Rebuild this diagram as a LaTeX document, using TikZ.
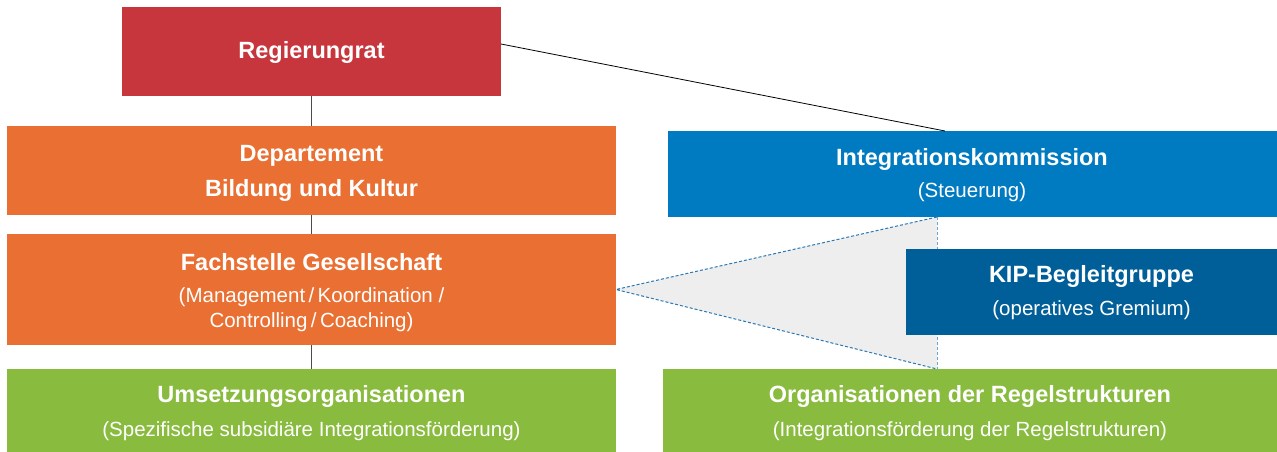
\documentclass[tikz,border=0pt]{standalone}
\usepackage{fontspec}
\setmainfont{Liberation Sans}
\definecolor{cred}{HTML}{C8363D}
\definecolor{corange}{HTML}{E97032}
\definecolor{cblue}{HTML}{007AC0}
\definecolor{cdblue}{HTML}{005F99}
\definecolor{cgreen}{HTML}{88BB3E}
\definecolor{ctri}{HTML}{EEEEEE}
\definecolor{cdash}{HTML}{2A78B4}
\definecolor{cvdash}{HTML}{6FA3CC}
\begin{document}
\begin{tikzpicture}[x=1pt,y=-1pt,
  box/.style={anchor=north west,inner sep=0pt,outer sep=0pt,draw=none},
  ttl/.style={text=white,font=\fontsize{23.5}{27}\selectfont\bfseries,inner sep=0pt,anchor=center,yshift=-2.5pt},
  sub/.style={text=white,font=\fontsize{20.5}{25}\selectfont,inner sep=0pt,anchor=center,yshift=-2.5pt},
  conn/.style={draw=black!70,line width=0.9pt},
  dsh/.style={draw=cdash,line width=1pt,dash pattern=on 3pt off 2pt}]
\useasboundingbox (0,0) rectangle (1277,452);
% boxes
\node[box,fill=cred,minimum width=379pt,minimum height=89pt] (rr) at (122,7) {};
\node[box,fill=corange,minimum width=609pt,minimum height=89pt] (dep) at (7,126) {};
\node[box,fill=corange,minimum width=609pt,minimum height=111pt] (fg) at (7,234) {};
\node[box,fill=cgreen,minimum width=609pt,minimum height=83pt] (uo) at (7,369) {};
\node[box,fill=cblue,minimum width=609pt,minimum height=86pt] (ik) at (668,131) {};
\node[box,fill=cgreen,minimum width=614pt,minimum height=83pt] (or) at (663,369) {};
% triangle
\coordinate (apex) at (fg.east);
\coordinate (ttop) at (937,217);
\coordinate (tbot) at (937,369);
\fill[ctri] (apex) -- (ttop) -- (tbot) -- cycle;
\draw[dsh] (ttop) -- (apex) -- (tbot);
\draw[draw=cvdash,line width=1pt,dash pattern=on 3pt off 2pt] (ttop) -- (tbot);
\node[box,fill=cdblue,minimum width=371pt,minimum height=86pt] (kip) at (906,249) {};
% connectors
\draw[conn] (rr.south) -- (dep.north);
\draw[conn] (dep.south) -- (fg.north);
\draw[conn] (fg.south) -- (uo.north);
\coordinate (rrout) at (501,44);
\coordinate (ikin) at (945,131);
\draw[black,line width=0.8pt] (rrout) -- (ikin);
% texts
\node[ttl] (t1) at (311.5,50) {Regierungrat};
\node[ttl] (t2) at (311.5,153) {Departement};
\node[ttl] (t3) at (311.5,188) {Bildung und Kultur};
\node[ttl] (t4) at (311.5,260) {Fachstelle Gesellschaft};
\node[sub] (s4a) at (311.5,295) {(Management\,/\,Koordination /};
\node[sub] (s4b) at (311.5,320) {Controlling\,/\,Coaching)};
\node[ttl] (t5) at (311.5,394) {Umsetzungsorganisationen};
\node[sub] (s5) at (311.5,429) {(Spezifische subsidiäre Integrationsförderung)};
\node[ttl] (t6) at (972,157) {Integrationskommission};
\node[sub] (s6) at (972,190) {(Steuerung)};
\node[ttl] (t7) at (1091.5,274) {KIP-Begleitgruppe};
\node[sub] (s7) at (1091.5,308) {(operatives Gremium)};
\node[ttl] (t8) at (970,394) {Organisationen der Regelstrukturen};
\node[sub] (s8) at (970,429) {(Integrationsförderung der Regelstrukturen)};
\end{tikzpicture}
\end{document}
